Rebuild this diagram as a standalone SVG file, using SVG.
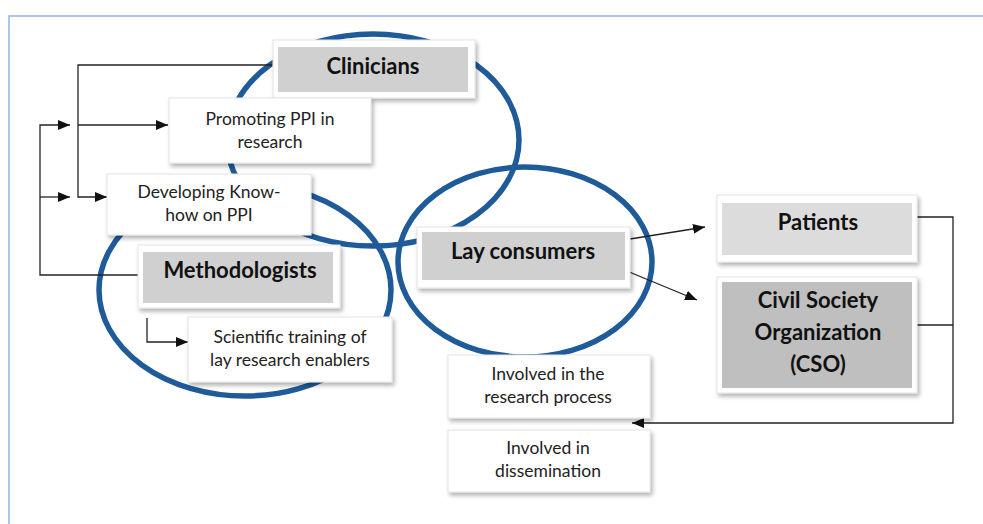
<svg xmlns="http://www.w3.org/2000/svg" width="983" height="524" viewBox="0 0 983 524">
<style>
.ring{fill:none;stroke:#1f5b99;stroke-width:5.5}
.outer{fill:#fff;stroke:#e4e4e4;stroke-width:1;filter:url(#sh)}
.g1{fill:#d0d0d0}
.g2{fill:#dcdcdc}
.g3{fill:#bfbfbf}
.big{font-family:Lato,"Liberation Sans",sans-serif;font-weight:bold;font-size:22px;fill:#111;text-anchor:middle}
.small{font-family:Lato,"Liberation Sans",sans-serif;font-size:17.5px;fill:#222;text-anchor:middle}
.con{fill:none;stroke:#222;stroke-width:1.3}
</style>
<defs>
<filter id="sh" x="-10%" y="-10%" width="125%" height="140%">
<feDropShadow dx="2" dy="3" stdDeviation="2" flood-color="#000" flood-opacity="0.3"/>
</filter>
<marker id="ah" markerUnits="userSpaceOnUse" markerWidth="12" markerHeight="10" refX="12" refY="5" orient="auto">
<path d="M0,0 L12,5 L0,10 z" fill="#111"/>
</marker>
</defs>
<rect width="983" height="524" fill="#fff"/>
<path d="M9,524 V16 H983" fill="none" stroke="#8fb4e3" stroke-width="1.5"/>
<g id="circles">
<ellipse class="ring" cx="373" cy="140" rx="146" ry="106"/>
<ellipse class="ring" cx="245" cy="290" rx="146" ry="106"/>
<ellipse class="ring" cx="525" cy="262" rx="127" ry="95"/>
</g>
<g id="connectors">
<polyline class="con" points="272,65 78,65 78,197 107,197" marker-end="url(#ah)"/>
<line class="con" x1="78" y1="125" x2="168" y2="125" marker-end="url(#ah)"/>
<polyline class="con" points="138,275 40,275 40,125 70,125" marker-end="url(#ah)"/>
<line class="con" x1="40" y1="197" x2="70" y2="197" marker-end="url(#ah)"/>
<polyline class="con" points="147,318 147,342 188,342" marker-end="url(#ah)"/>
<line class="con" x1="605" y1="243" x2="705" y2="227" marker-end="url(#ah)"/>
<line class="con" x1="605" y1="262" x2="697" y2="300" marker-end="url(#ah)"/>
<polyline class="con" points="917,217 953,217 953,423 632,423" marker-end="url(#ah)"/>
<line class="con" x1="917" y1="325" x2="953" y2="325"/>
</g>
<g id="clinicians">
<rect class="outer" x="273" y="40" width="202" height="58"/>
<rect class="g1" x="278" y="47" width="190" height="45"/>
<text class="big" x="373" y="74">Clinicians</text>
</g>
<g id="promoting">
<rect class="outer" x="169" y="98" width="202" height="65"/>
<text class="small" x="270" y="125">Promoting PPI in</text>
<text class="small" x="270" y="148">research</text>
</g>
<g id="developing">
<rect class="outer" x="107" y="174" width="204" height="61"/>
<text class="small" x="209" y="198">Developing Know-</text>
<text class="small" x="209" y="221">how on PPI</text>
</g>
<g id="methodologists">
<rect class="outer" x="138" y="245" width="202" height="63"/>
<rect class="g1" x="143" y="252" width="190" height="51"/>
<text class="big" x="240" y="278">Methodologists</text>
</g>
<g id="scientific">
<rect class="outer" x="188" y="317" width="204" height="65"/>
<text class="small" x="290" y="343">Scientific training of</text>
<text class="small" x="290" y="366">lay research enablers</text>
</g>
<g id="lay">
<rect class="outer" x="417" y="227" width="213" height="61"/>
<rect class="g1" x="422" y="232" width="203" height="48"/>
<text class="big" x="523" y="259">Lay consumers</text>
</g>
<g id="patients">
<rect class="outer" x="717" y="195" width="200" height="67"/>
<rect class="g2" x="722" y="203" width="190" height="52"/>
<text class="big" x="818" y="230">Patients</text>
</g>
<g id="cso">
<rect class="outer" x="717" y="277" width="200" height="116"/>
<rect class="g3" x="722" y="282" width="190" height="106"/>
<text class="big" x="818" y="308">Civil Society</text>
<text class="big" x="818" y="340">Organization</text>
<text class="big" x="818" y="372">(CSO)</text>
</g>
<g id="research">
<rect class="outer" x="448" y="355" width="202" height="63"/>
<text class="small" x="548" y="380">Involved in the</text>
<text class="small" x="548" y="403">research process</text>
</g>
<g id="dissemination">
<rect class="outer" x="448" y="430" width="202" height="62"/>
<text class="small" x="548" y="454">Involved in</text>
<text class="small" x="548" y="477">dissemination</text>
</g>
</svg>
